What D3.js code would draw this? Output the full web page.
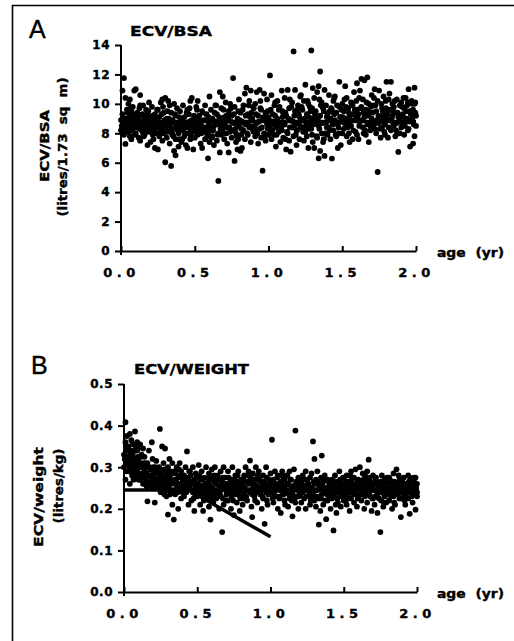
<!DOCTYPE html>
<html>
<head>
<meta charset="utf-8">
<script src="https://cdn.jsdelivr.net/npm/d3@7"></script>
<style>
  body { margin: 0; background: #fff; }
  svg { display: block; }
  .tick text { font-family: "DejaVu Sans", sans-serif; font-weight: bold; fill: #000; stroke: #000; stroke-width: 0.4; }
  .domain, .tick line { stroke: #000; stroke-width: 2; }
  .lbl { font-family: "DejaVu Sans", sans-serif; font-weight: bold; fill: #000; stroke: #000; stroke-width: 0.4; }
</style>
</head>
<body>
<div id="chart"></div>
<script>
// Panel A: ECV/BSA (litres/1.73 sq m) against age (yr)
const bsaPoints = [
  [0.00,8.9],[0.00,8.2],[0.01,10.9],[0.01,9.3],[0.02,11.75],[0.02,8.6],[0.02,7.9],[0.03,7.28],[0.03,10.4],[0.03,9.0],[0.04,8.4],[0.04,9.6],[0.05,10.0],[0.05,8.1],[0.05,8.8],[0.06,10.3],[0.06,9.2],[0.06,7.8],[0.07,7.6],[0.07,8.5],[0.07,9.5],[0.08,9.8],[0.08,8.3],[0.08,8.9],[0.09,10.9],[0.09,7.9],[0.09,9.1],[0.10,11.0],[0.10,8.6],[0.10,8.0],
  [0.11,9.4],[0.11,8.4],[0.12,7.7],[0.12,8.9],[0.13,10.6],[0.13,7.5],[0.13,9.9],[0.14,8.2],[0.14,8.7],[0.15,9.9],[0.15,8.0],[0.15,9.2],[0.16,8.5],[0.16,7.9],[0.17,9.6],[0.17,8.3],[0.18,7.2],[0.18,8.8],[0.18,9.3],[0.19,10.1],[0.19,8.1],[0.20,8.6],[0.20,7.4],[0.20,9.0],
  [0.21,9.8],[0.21,8.3],[0.22,7.6],[0.22,8.9],[0.23,7.0],[0.23,9.3],[0.24,8.4],[0.24,8.0],[0.25,6.9],[0.25,9.6],[0.25,8.7],[0.26,7.8],[0.26,9.1],[0.27,8.2],[0.27,10.1],[0.28,10.3],[0.28,8.5],[0.28,7.5],[0.29,9.4],[0.29,8.0],[0.30,10.4],[0.30,6.03],[0.30,8.8],
  [0.31,9.0],[0.31,7.7],[0.32,8.4],[0.32,10.2],[0.33,9.9],[0.33,7.3],[0.33,8.6],[0.34,5.78],[0.34,8.1],[0.34,9.4],[0.35,7.9],[0.35,8.9],[0.36,6.8],[0.36,10.0],[0.36,8.3],[0.37,6.5],[0.37,9.2],[0.37,7.6],[0.38,8.7],[0.38,9.7],[0.39,8.0],[0.39,7.1],[0.40,8.5],[0.40,9.5],
  [0.41,7.4],[0.41,8.8],[0.42,9.9],[0.42,8.2],[0.43,7.8],[0.43,9.1],[0.44,8.4],[0.44,7.2],[0.45,7.0],[0.45,9.6],[0.45,8.6],[0.46,8.0],[0.46,9.3],[0.47,10.2],[0.47,7.6],[0.47,8.3],[0.48,10.4],[0.48,8.9],[0.49,6.9],[0.49,8.1],[0.50,9.0],[0.50,7.7],
  [0.51,8.5],[0.51,9.8],[0.52,10.2],[0.52,7.9],[0.53,8.3],[0.53,9.2],[0.54,7.3],[0.54,8.7],[0.55,7.0],[0.55,9.5],[0.56,8.1],[0.56,8.9],[0.57,9.9],[0.57,7.6],[0.58,8.4],[0.58,9.3],[0.59,6.3],[0.59,8.0],[0.60,10.5],[0.60,8.6],[0.60,7.4],
  [0.61,9.6],[0.61,8.2],[0.62,7.8],[0.62,9.0],[0.63,7.2],[0.63,8.5],[0.64,9.9],[0.64,8.8],[0.65,7.5],[0.65,9.3],[0.66,4.76],[0.66,8.0],[0.67,10.8],[0.67,6.7],[0.67,8.6],[0.68,9.7],[0.68,7.9],[0.69,10.5],[0.69,8.3],[0.70,9.1],[0.70,7.6],
  [0.71,8.9],[0.71,10.1],[0.72,7.3],[0.72,8.4],[0.73,6.7],[0.73,9.5],[0.74,10.0],[0.74,8.1],[0.75,7.7],[0.75,9.2],[0.76,11.75],[0.76,8.7],[0.77,6.12],[0.77,9.8],[0.78,8.0],[0.78,7.4],[0.79,6.9],[0.79,9.0],[0.80,8.5],[0.80,10.3],
  [0.81,6.8],[0.81,9.4],[0.82,7.0],[0.82,8.8],[0.83,9.9],[0.83,8.2],[0.84,10.7],[0.84,7.6],[0.85,11.1],[0.85,8.6],[0.86,9.3],[0.86,7.9],[0.87,10.2],[0.87,8.4],[0.88,10.9],[0.88,7.4],[0.89,9.0],[0.89,8.9],[0.90,9.7],[0.90,8.1],
  [0.91,10.0],[0.91,7.8],[0.92,10.8],[0.92,8.7],[0.93,7.3],[0.93,9.2],[0.94,10.95],[0.94,8.3],[0.95,9.6],[0.95,7.7],[0.96,5.46],[0.96,8.9],[0.97,10.7],[0.97,8.0],[0.98,9.4],[0.98,7.5],[0.99,8.6],[0.99,10.3],[1.00,9.1],[1.00,7.9],
  [1.01,11.93],[1.01,8.5],[1.02,10.6],[1.02,7.6],[1.03,9.3],[1.03,8.8],[1.04,9.9],[1.04,7.9],[1.05,7.1],[1.05,8.4],[1.06,10.2],[1.06,9.0],[1.07,8.1],[1.07,9.6],[1.08,7.4],[1.08,8.7],[1.09,10.9],[1.09,8.2],[1.10,9.4],[1.10,7.7],
  [1.11,10.4],[1.11,8.6],[1.12,6.9],[1.12,9.2],[1.13,10.95],[1.13,8.0],[1.14,9.7],[1.14,7.5],[1.15,6.75],[1.15,8.9],[1.16,10.1],[1.16,8.4],[1.17,13.56],[1.17,7.8],[1.18,10.95],[1.18,9.5],[1.19,8.2],[1.19,7.2],[1.20,9.9],[1.20,8.7],
  [1.21,9.1],[1.21,7.6],[1.22,10.6],[1.22,8.4],[1.23,9.6],[1.23,8.9],[1.24,7.5],[1.24,10.2],[1.25,11.3],[1.25,8.1],[1.26,9.3],[1.26,7.8],[1.27,7.0],[1.27,10.0],[1.28,8.6],[1.28,9.8],[1.29,13.63],[1.29,8.3],[1.30,11.07],[1.30,7.4],[1.30,9.0],
  [1.31,7.0],[1.31,10.4],[1.32,8.8],[1.32,9.5],[1.33,7.7],[1.33,10.8],[1.34,6.3],[1.34,11.2],[1.34,8.5],[1.35,12.2],[1.35,6.8],[1.35,9.2],[1.36,8.0],[1.36,10.1],[1.37,9.7],[1.37,7.4],[1.38,10.95],[1.38,6.46],[1.39,8.7],[1.39,9.9],[1.40,7.9],[1.40,9.3],
  [1.41,10.6],[1.41,8.4],[1.42,9.0],[1.42,7.6],[1.43,6.28],[1.43,9.6],[1.44,8.2],[1.44,10.2],[1.45,10.5],[1.45,8.9],[1.46,7.8],[1.46,9.4],[1.47,7.0],[1.47,8.6],[1.48,11.5],[1.48,9.8],[1.49,7.2],[1.49,9.1],[1.50,8.0],[1.50,10.0],
  [1.51,9.5],[1.51,8.3],[1.52,11.2],[1.52,9.0],[1.53,7.8],[1.53,10.4],[1.54,8.7],[1.54,9.7],[1.55,7.4],[1.55,9.2],[1.56,10.1],[1.56,8.5],[1.57,7.6],[1.57,9.9],[1.58,10.8],[1.58,8.9],[1.59,9.4],[1.59,8.1],[1.60,11.4],[1.60,9.6],[1.60,7.9],
  [1.61,7.6],[1.61,9.3],[1.62,10.9],[1.62,8.8],[1.63,11.7],[1.63,9.8],[1.64,8.4],[1.64,10.3],[1.65,11.6],[1.65,9.1],[1.66,7.9],[1.66,9.6],[1.67,11.8],[1.67,8.6],[1.68,7.4],[1.68,10.0],[1.69,9.4],[1.69,8.2],[1.70,10.6],[1.70,9.0],
  [1.71,8.7],[1.71,9.9],[1.72,11.0],[1.72,8.3],[1.73,8.0],[1.73,9.5],[1.74,5.37],[1.74,10.2],[1.75,10.9],[1.75,9.1],[1.76,7.7],[1.76,8.8],[1.77,9.7],[1.77,8.4],[1.78,10.5],[1.78,9.3],[1.79,7.9],[1.79,8.6],[1.80,11.5],[1.80,9.0],
  [1.81,7.7],[1.81,9.6],[1.82,10.7],[1.82,8.9],[1.83,11.5],[1.83,8.2],[1.84,9.2],[1.84,10.0],[1.85,8.5],[1.85,9.8],[1.86,7.8],[1.86,9.4],[1.87,10.3],[1.87,8.7],[1.88,6.73],[1.88,9.1],[1.89,8.0],[1.89,9.9],[1.90,10.1],[1.90,8.4],
  [1.91,9.3],[1.91,8.6],[1.92,9.7],[1.92,7.9],[1.93,10.4],[1.93,8.8],[1.94,9.0],[1.94,9.9],[1.95,11.0],[1.95,8.3],[1.96,7.1],[1.96,9.5],[1.97,10.2],[1.97,8.9],[1.98,7.3],[1.98,9.6],[1.99,11.1],[1.99,7.8],[1.99,10.0],[2.00,9.2],[2.00,8.5]
];

// Panel A, points inside the dense central band
const bsaBandPoints = [
  [0.005,8.5],[0.015,9.0],[0.025,8.3],[0.035,8.8],[0.045,9.4],[0.055,8.6],[0.065,8.2],[0.075,9.1],[0.085,8.7],[0.095,8.4],[0.015,8.0],[0.045,8.9],[0.065,9.7],[0.085,9.3],
  [0.105,8.8],[0.115,9.1],[0.125,8.3],[0.135,8.6],[0.145,9.3],[0.155,8.9],[0.165,8.1],[0.175,8.7],[0.185,9.5],[0.195,8.4],[0.125,9.7],[0.155,7.8],[0.175,9.0],[0.195,8.8],
  [0.205,8.5],[0.215,9.2],[0.225,8.2],[0.235,8.7],[0.245,9.0],[0.255,8.0],[0.265,8.6],[0.275,9.3],[0.285,8.3],[0.295,8.9],[0.215,7.9],[0.245,9.6],[0.265,8.4],[0.285,9.8],
  [0.305,8.6],[0.315,8.1],[0.325,9.0],[0.335,8.4],[0.345,8.8],[0.355,7.8],[0.365,9.3],[0.375,8.5],[0.385,8.2],[0.395,9.1],[0.315,9.5],[0.345,8.0],[0.365,8.7],[0.395,7.6],
  [0.405,8.3],[0.415,9.0],[0.425,8.6],[0.435,8.0],[0.445,9.4],[0.455,8.4],[0.465,8.8],[0.475,7.8],[0.485,8.5],[0.495,9.2],[0.415,7.6],[0.445,8.7],[0.465,9.7],[0.495,8.2],
  [0.505,8.8],[0.515,8.2],[0.525,9.0],[0.535,8.6],[0.545,8.0],[0.555,9.4],[0.565,8.4],[0.575,8.9],[0.585,7.8],[0.595,9.1],[0.515,9.6],[0.545,8.5],[0.575,8.1],[0.595,8.7],
  [0.605,8.4],[0.615,8.9],[0.625,8.2],[0.635,9.4],[0.645,8.6],[0.655,7.9],[0.665,9.1],[0.675,8.3],[0.685,8.8],[0.695,9.6],[0.615,7.7],[0.645,9.9],[0.675,8.5],[0.695,8.0],
  [0.705,8.6],[0.715,8.0],[0.725,9.0],[0.735,8.4],[0.745,9.7],[0.755,8.2],[0.765,9.3],[0.775,8.7],[0.785,7.8],[0.795,9.5],[0.715,9.2],[0.745,8.8],[0.775,8.3],[0.795,7.6],
  [0.805,8.9],[0.815,8.3],[0.825,9.6],[0.835,8.7],[0.845,9.2],[0.855,8.0],[0.865,9.9],[0.875,8.5],[0.885,9.4],[0.895,8.2],[0.815,7.9],[0.845,8.6],[0.875,9.1],[0.895,9.8],
  [0.905,8.5],[0.915,9.3],[0.925,8.0],[0.935,8.8],[0.945,9.7],[0.955,8.4],[0.965,9.1],[0.975,7.8],[0.985,8.9],[0.995,9.5],[0.915,8.2],[0.945,10.2],[0.975,9.0],[0.995,8.3],
  [1.005,8.9],[1.015,9.6],[1.025,8.2],[1.035,8.6],[1.045,9.2],[1.055,7.9],[1.065,8.7],[1.075,9.8],[1.085,8.4],[1.095,9.1],[1.015,8.0],[1.045,10.1],[1.075,8.5],[1.095,9.5],
  [1.105,8.6],[1.115,9.4],[1.125,8.1],[1.135,9.0],[1.145,8.4],[1.155,9.8],[1.165,8.8],[1.175,9.2],[1.185,7.9],[1.195,9.6],[1.115,7.6],[1.145,10.3],[1.175,8.5],[1.195,8.2],
  [1.205,9.3],[1.215,8.5],[1.225,9.8],[1.235,8.1],[1.245,9.0],[1.255,8.7],[1.265,10.2],[1.275,8.3],[1.285,9.5],[1.295,7.9],[1.215,10.5],[1.245,8.4],[1.275,9.1],[1.295,9.7],
  [1.305,8.6],[1.315,9.3],[1.325,7.8],[1.335,9.0],[1.345,8.3],[1.355,9.9],[1.365,8.7],[1.375,9.5],[1.385,8.0],[1.395,9.1],[1.315,8.9],[1.345,10.3],[1.375,7.6],[1.395,8.4],
  [1.405,9.0],[1.415,8.2],[1.425,9.7],[1.435,8.6],[1.445,9.3],[1.455,7.9],[1.465,9.9],[1.475,8.4],[1.485,9.1],[1.495,8.8],[1.415,9.5],[1.445,10.4],[1.475,8.0],[1.495,9.6],
  [1.505,9.1],[1.515,8.7],[1.525,9.8],[1.535,8.4],[1.545,9.4],[1.555,8.9],[1.565,10.0],[1.575,8.2],[1.585,9.6],[1.595,9.0],[1.515,10.3],[1.545,8.0],[1.575,9.3],[1.595,10.2],
  [1.605,9.0],[1.615,8.5],[1.625,9.7],[1.635,8.9],[1.645,9.4],[1.655,8.2],[1.665,10.1],[1.675,9.2],[1.685,8.7],[1.695,9.8],[1.615,10.4],[1.645,8.0],[1.675,9.5],[1.695,8.4],
  [1.705,9.4],[1.715,8.6],[1.725,9.9],[1.735,8.9],[1.745,9.2],[1.755,8.3],[1.765,10.0],[1.775,9.0],[1.785,8.1],[1.795,9.7],[1.715,10.4],[1.745,8.7],[1.775,9.5],[1.795,10.2],
  [1.805,9.3],[1.815,8.4],[1.825,9.6],[1.835,9.0],[1.845,8.7],[1.855,10.2],[1.865,8.2],[1.875,9.4],[1.885,8.8],[1.895,9.9],[1.815,10.3],[1.845,9.5],[1.875,8.0],[1.895,9.1],
  [1.905,9.8],[1.915,9.1],[1.925,8.5],[1.935,9.5],[1.945,10.1],[1.955,8.8],[1.965,9.3],[1.975,10.0],[1.985,8.6],[1.995,9.4],[1.915,10.4],[1.945,8.2],[1.975,9.0],[1.995,10.1]
];

// Panel B: ECV/weight (litres/kg) against age (yr)
const weightPoints = [
  [0.00,0.33],[0.00,0.30],[0.01,0.408],[0.01,0.36],[0.01,0.27],[0.02,0.34],[0.02,0.31],[0.02,0.375],[0.03,0.29],[0.03,0.35],[0.03,0.32],[0.04,0.38],[0.04,0.30],[0.04,0.26],[0.05,0.34],[0.05,0.31],[0.05,0.365],[0.06,0.29],[0.06,0.33],[0.06,0.355],[0.07,0.30],[0.07,0.32],[0.075,0.386],[0.08,0.35],[0.08,0.28],[0.08,0.31],[0.09,0.34],[0.09,0.29],[0.09,0.36],[0.10,0.32],[0.10,0.27],[0.10,0.30],
  [0.11,0.355],[0.11,0.30],[0.11,0.27],[0.12,0.33],[0.12,0.285],[0.13,0.345],[0.13,0.26],[0.13,0.31],[0.14,0.29],[0.14,0.325],[0.15,0.27],[0.15,0.30],[0.155,0.254],[0.16,0.218],[0.16,0.31],[0.17,0.34],[0.17,0.28],[0.18,0.295],[0.18,0.26],[0.19,0.36],[0.19,0.275],[0.20,0.30],[0.20,0.25],[0.20,0.285],
  [0.21,0.215],[0.21,0.29],[0.22,0.27],[0.22,0.315],[0.23,0.255],[0.23,0.285],[0.24,0.30],[0.24,0.26],[0.245,0.392],[0.25,0.275],[0.25,0.24],[0.26,0.35],[0.26,0.29],[0.27,0.265],[0.27,0.31],[0.28,0.345],[0.28,0.25],[0.29,0.28],[0.29,0.23],[0.30,0.186],[0.30,0.30],[0.30,0.26],
  [0.31,0.27],[0.31,0.32],[0.32,0.245],[0.32,0.29],[0.33,0.21],[0.33,0.31],[0.34,0.174],[0.34,0.265],[0.35,0.285],[0.35,0.235],[0.36,0.30],[0.36,0.255],[0.37,0.20],[0.37,0.275],[0.38,0.31],[0.38,0.25],[0.39,0.225],[0.39,0.29],[0.40,0.265],[0.40,0.24],
  [0.41,0.28],[0.41,0.23],[0.42,0.26],[0.42,0.30],[0.43,0.338],[0.43,0.245],[0.44,0.21],[0.44,0.275],[0.45,0.255],[0.45,0.29],[0.46,0.22],[0.46,0.265],[0.47,0.24],[0.47,0.30],[0.48,0.27],[0.48,0.195],[0.49,0.25],[0.49,0.285],[0.50,0.23],[0.50,0.26],
  [0.51,0.305],[0.51,0.245],[0.52,0.27],[0.52,0.21],[0.53,0.255],[0.53,0.29],[0.54,0.235],[0.54,0.195],[0.55,0.275],[0.55,0.25],[0.56,0.30],[0.56,0.225],[0.57,0.26],[0.57,0.24],[0.58,0.285],[0.58,0.205],[0.59,0.174],[0.59,0.255],[0.60,0.295],[0.60,0.235],
  [0.61,0.27],[0.61,0.215],[0.62,0.245],[0.62,0.30],[0.63,0.26],[0.63,0.225],[0.64,0.28],[0.64,0.24],[0.65,0.20],[0.65,0.255],[0.66,0.29],[0.66,0.23],[0.67,0.144],[0.67,0.265],[0.68,0.30],[0.68,0.21],[0.69,0.25],[0.69,0.275],[0.70,0.235],[0.70,0.26],
  [0.71,0.29],[0.71,0.22],[0.72,0.255],[0.72,0.245],[0.73,0.27],[0.73,0.20],[0.74,0.30],[0.74,0.235],[0.75,0.26],[0.75,0.185],[0.76,0.28],[0.76,0.24],[0.77,0.215],[0.77,0.265],[0.78,0.25],[0.78,0.29],[0.79,0.23],[0.79,0.195],[0.80,0.27],[0.80,0.245],
  [0.81,0.255],[0.81,0.21],[0.82,0.28],[0.82,0.235],[0.83,0.265],[0.83,0.30],[0.84,0.245],[0.84,0.22],[0.85,0.29],[0.85,0.26],[0.86,0.316],[0.86,0.24],[0.87,0.205],[0.875,0.18],[0.87,0.27],[0.88,0.25],[0.88,0.285],[0.89,0.23],[0.89,0.26],[0.90,0.30],[0.90,0.24],
  [0.91,0.275],[0.91,0.215],[0.92,0.25],[0.92,0.29],[0.93,0.235],[0.93,0.265],[0.94,0.20],[0.94,0.245],[0.95,0.28],[0.95,0.225],[0.96,0.164],[0.96,0.26],[0.97,0.30],[0.97,0.24],[0.98,0.255],[0.98,0.21],[0.99,0.27],[0.99,0.235],[1.00,0.285],[1.00,0.25],
  [1.01,0.366],[1.01,0.24],[1.02,0.27],[1.02,0.215],[1.03,0.255],[1.03,0.29],[1.04,0.23],[1.04,0.26],[1.05,0.20],[1.05,0.28],[1.06,0.245],[1.06,0.225],[1.07,0.265],[1.07,0.19],[1.08,0.25],[1.08,0.29],[1.09,0.235],[1.09,0.27],[1.10,0.21],[1.10,0.255],
  [1.11,0.28],[1.11,0.24],[1.12,0.205],[1.12,0.26],[1.13,0.29],[1.13,0.225],[1.14,0.25],[1.14,0.27],[1.15,0.182],[1.15,0.235],[1.16,0.295],[1.16,0.245],[1.17,0.388],[1.17,0.215],[1.18,0.26],[1.18,0.23],[1.19,0.275],[1.19,0.20],[1.20,0.25],[1.20,0.24],
  [1.21,0.265],[1.21,0.215],[1.22,0.24],[1.22,0.28],[1.23,0.225],[1.23,0.255],[1.24,0.29],[1.24,0.20],[1.25,0.245],[1.25,0.27],[1.26,0.23],[1.26,0.26],[1.27,0.275],[1.27,0.21],[1.28,0.25],[1.28,0.285],[1.29,0.362],[1.29,0.235],[1.30,0.32],[1.30,0.22],[1.30,0.26],
  [1.31,0.27],[1.31,0.205],[1.32,0.245],[1.32,0.29],[1.33,0.162],[1.33,0.225],[1.34,0.255],[1.34,0.195],[1.35,0.328],[1.35,0.235],[1.36,0.265],[1.36,0.21],[1.37,0.28],[1.37,0.24],[1.38,0.175],[1.38,0.25],[1.39,0.22],[1.39,0.27],[1.40,0.23],[1.40,0.26],
  [1.41,0.245],[1.41,0.20],[1.42,0.27],[1.42,0.225],[1.43,0.148],[1.43,0.255],[1.44,0.235],[1.44,0.28],[1.45,0.19],[1.45,0.25],[1.46,0.265],[1.46,0.215],[1.47,0.24],[1.47,0.29],[1.48,0.23],[1.48,0.205],[1.49,0.26],[1.49,0.245],[1.50,0.275],[1.50,0.22],
  [1.51,0.255],[1.51,0.235],[1.52,0.28],[1.52,0.21],[1.53,0.245],[1.53,0.265],[1.54,0.195],[1.54,0.24],[1.55,0.29],[1.55,0.225],[1.56,0.26],[1.56,0.25],[1.57,0.215],[1.57,0.275],[1.58,0.235],[1.58,0.295],[1.59,0.205],[1.59,0.255],[1.60,0.27],[1.60,0.23],
  [1.61,0.245],[1.61,0.30],[1.62,0.22],[1.62,0.26],[1.63,0.285],[1.63,0.235],[1.64,0.20],[1.64,0.25],[1.65,0.27],[1.65,0.24],[1.66,0.215],[1.66,0.29],[1.67,0.318],[1.67,0.255],[1.68,0.23],[1.68,0.265],[1.69,0.195],[1.69,0.245],[1.70,0.28],[1.70,0.225],
  [1.71,0.26],[1.71,0.21],[1.72,0.245],[1.72,0.275],[1.73,0.235],[1.73,0.19],[1.74,0.255],[1.74,0.225],[1.75,0.144],[1.75,0.265],[1.76,0.24],[1.76,0.28],[1.77,0.205],[1.77,0.25],[1.78,0.23],[1.78,0.27],[1.79,0.245],[1.79,0.215],[1.80,0.26],[1.80,0.235],
  [1.81,0.275],[1.81,0.22],[1.82,0.25],[1.82,0.24],[1.83,0.265],[1.83,0.20],[1.84,0.23],[1.84,0.285],[1.85,0.245],[1.85,0.21],[1.86,0.26],[1.86,0.295],[1.87,0.235],[1.87,0.25],[1.88,0.27],[1.88,0.225],[1.89,0.18],[1.89,0.255],[1.90,0.24],[1.90,0.265],
  [1.91,0.23],[1.91,0.275],[1.92,0.25],[1.92,0.21],[1.93,0.26],[1.93,0.24],[1.94,0.28],[1.94,0.225],[1.95,0.188],[1.95,0.255],[1.96,0.245],[1.96,0.27],[1.97,0.235],[1.97,0.215],[1.98,0.265],[1.98,0.25],[1.99,0.198],[1.99,0.275],[2.00,0.24],[2.00,0.26],[2.00,0.23]
];

// Panel B, points inside the dense central band
const weightBandPoints = [
  [0.005,0.32],[0.015,0.29],[0.025,0.345],[0.035,0.305],[0.045,0.33],[0.055,0.28],[0.065,0.315],[0.075,0.34],[0.085,0.30],[0.095,0.325],[0.015,0.35],[0.045,0.295],[0.065,0.27],[0.095,0.345],
  [0.105,0.31],[0.115,0.28],[0.125,0.30],[0.135,0.275],[0.145,0.31],[0.155,0.285],[0.165,0.265],[0.175,0.30],[0.185,0.28],[0.195,0.32],[0.115,0.325],[0.145,0.26],[0.175,0.255],[0.195,0.265],
  [0.205,0.275],[0.215,0.26],[0.225,0.29],[0.235,0.27],[0.245,0.25],[0.255,0.285],[0.265,0.26],[0.275,0.295],[0.285,0.27],[0.295,0.245],[0.215,0.30],[0.245,0.28],[0.275,0.235],[0.295,0.29],
  [0.305,0.255],[0.315,0.28],[0.325,0.26],[0.335,0.245],[0.345,0.29],[0.355,0.265],[0.365,0.24],[0.375,0.26],[0.385,0.28],[0.395,0.25],[0.315,0.235],[0.345,0.27],[0.375,0.295],[0.395,0.275],
  [0.405,0.25],[0.415,0.27],[0.425,0.24],[0.435,0.265],[0.445,0.25],[0.455,0.28],[0.465,0.245],[0.475,0.26],[0.485,0.235],[0.495,0.275],[0.415,0.255],[0.445,0.29],[0.475,0.225],[0.495,0.245],
  [0.505,0.26],[0.515,0.235],[0.525,0.25],[0.535,0.27],[0.545,0.245],[0.555,0.26],[0.565,0.23],[0.575,0.255],[0.585,0.275],[0.595,0.245],[0.515,0.28],[0.545,0.22],[0.575,0.265],[0.595,0.225],
  [0.605,0.25],[0.615,0.265],[0.625,0.235],[0.635,0.245],[0.645,0.27],[0.655,0.24],[0.665,0.255],[0.675,0.225],[0.685,0.26],[0.695,0.245],[0.615,0.28],[0.645,0.23],[0.675,0.275],[0.695,0.22],
  [0.705,0.255],[0.715,0.24],[0.725,0.265],[0.735,0.23],[0.745,0.25],[0.755,0.27],[0.765,0.235],[0.775,0.255],[0.785,0.24],[0.795,0.265],[0.715,0.275],[0.745,0.22],[0.775,0.28],[0.795,0.225],
  [0.805,0.245],[0.815,0.27],[0.825,0.25],[0.835,0.23],[0.845,0.265],[0.855,0.245],[0.865,0.275],[0.875,0.235],[0.885,0.255],[0.895,0.27],[0.815,0.225],[0.845,0.28],[0.875,0.26],[0.895,0.22],
  [0.905,0.255],[0.915,0.24],[0.925,0.27],[0.935,0.25],[0.945,0.23],[0.955,0.265],[0.965,0.245],[0.975,0.275],[0.985,0.235],[0.995,0.26],[0.915,0.28],[0.945,0.255],[0.975,0.22],[0.995,0.24],
  [1.005,0.25],[1.015,0.265],[1.025,0.235],[1.035,0.245],[1.045,0.275],[1.055,0.25],[1.065,0.23],[1.075,0.26],[1.085,0.24],[1.095,0.27],[1.015,0.225],[1.045,0.255],[1.075,0.28],[1.095,0.22],
  [1.105,0.245],[1.115,0.26],[1.125,0.235],[1.135,0.27],[1.145,0.24],[1.155,0.255],[1.165,0.225],[1.175,0.265],[1.185,0.245],[1.195,0.23],[1.115,0.28],[1.145,0.22],[1.175,0.25],[1.195,0.27],
  [1.205,0.235],[1.215,0.255],[1.225,0.245],[1.235,0.27],[1.245,0.23],[1.255,0.26],[1.265,0.24],[1.275,0.25],[1.285,0.225],[1.295,0.265],[1.215,0.275],[1.245,0.255],[1.275,0.22],[1.295,0.245],
  [1.305,0.245],[1.315,0.23],[1.325,0.265],[1.335,0.25],[1.345,0.225],[1.355,0.255],[1.365,0.24],[1.375,0.27],[1.385,0.235],[1.395,0.25],[1.315,0.26],[1.345,0.275],[1.375,0.22],[1.395,0.24],
  [1.405,0.255],[1.415,0.24],[1.425,0.23],[1.435,0.265],[1.445,0.245],[1.455,0.225],[1.465,0.255],[1.475,0.27],[1.485,0.24],[1.495,0.23],[1.415,0.265],[1.445,0.21],[1.475,0.25],[1.495,0.275],
  [1.505,0.245],[1.515,0.265],[1.525,0.23],[1.535,0.255],[1.545,0.24],[1.555,0.27],[1.565,0.235],[1.575,0.25],[1.585,0.26],[1.595,0.225],[1.515,0.22],[1.545,0.28],[1.575,0.245],[1.595,0.265],
  [1.605,0.255],[1.615,0.235],[1.625,0.245],[1.635,0.27],[1.645,0.23],[1.655,0.26],[1.665,0.24],[1.675,0.275],[1.685,0.25],[1.695,0.225],[1.615,0.265],[1.645,0.28],[1.675,0.235],[1.695,0.255],
  [1.705,0.245],[1.715,0.23],[1.725,0.26],[1.735,0.25],[1.745,0.24],[1.755,0.22],[1.765,0.255],[1.775,0.235],[1.785,0.265],[1.795,0.245],[1.715,0.27],[1.745,0.26],[1.775,0.215],[1.795,0.275],
  [1.805,0.25],[1.815,0.24],[1.825,0.23],[1.835,0.255],[1.845,0.265],[1.855,0.235],[1.865,0.245],[1.875,0.26],[1.885,0.24],[1.895,0.225],[1.815,0.27],[1.845,0.215],[1.875,0.28],[1.895,0.25],
  [1.905,0.245],[1.915,0.26],[1.925,0.235],[1.935,0.25],[1.945,0.24],[1.955,0.27],[1.965,0.23],[1.975,0.255],[1.985,0.245],[1.995,0.235],[1.915,0.22],[1.945,0.265],[1.975,0.275],[1.995,0.25]
];

// fitted lines, as [age, value] end points
const bsaLines = [ [[0, 8.8], [2, 8.8]] ];
const weightLines = [ [[0, 0.245], [2, 0.245]], [[0, 0.333], [1, 0.133]] ];

// tick labels
const ageTicks = [0, 0.5, 1.0, 1.5, 2.0];
const bsaTicks = [0, 2, 4, 6, 8, 10, 12, 14];
const weightTicks = [0, 0.1, 0.2, 0.3, 0.4, 0.5];

const svg = d3.select("#chart").append("svg")
    .attr("width", 514)
    .attr("height", 641);

// outer frame (only top and left edges are in view)
svg.append("path")
    .attr("d", "M514,5.5H12.5V641")
    .attr("fill", "none")
    .attr("stroke", "#000")
    .attr("stroke-width", 1.6);

function drawPanel(p) {
    const x = d3.scaleLinear().domain([0, 2]).range([p.left, p.right]);
    const y = d3.scaleLinear().domain(p.yDomain).range([p.bottom, p.top]);

    // dots
    svg.append("g")
      .selectAll("circle")
      .data(p.points)
      .enter().append("circle")
        .attr("cx", d => x(d[0]))
        .attr("cy", d => y(d[1]))
        .attr("r", 2.9)
        .attr("fill", "#000");

    // fitted lines
    const line = d3.line().x(d => x(d[0])).y(d => y(d[1]));
    svg.append("g")
      .selectAll("path")
      .data(p.lines)
      .enter().append("path")
        .attr("d", line)
        .attr("fill", "none")
        .attr("stroke", "#000")
        .attr("stroke-width", 3.5);

    // y axis
    const yAxis = svg.append("g")
        .attr("transform", `translate(${p.left},0)`)
        .call(d3.axisLeft(y).tickValues(p.yTicks).tickFormat(p.yFormat)
            .tickSizeInner(6).tickSizeOuter(0).tickPadding(5));
    yAxis.select(".domain").attr("d", `M0,${p.bottom + 4}V${p.top}`);
    yAxis.selectAll(".tick text")
        .style("font-size", "12px")
        .style("letter-spacing", "0.5px");

    // x axis, ticks pointing up
    const xAxis = svg.append("g")
        .attr("transform", `translate(0,${p.bottom})`)
        .call(d3.axisBottom(x).tickValues(ageTicks).tickFormat(d3.format(".1f"))
            .tickSizeInner(-5).tickSizeOuter(0).tickPadding(17));
    xAxis.selectAll(".tick text")
        .style("font-size", "13px")
        .style("letter-spacing", "4.5px");

    svg.append("text")
        .attr("class", "lbl")
        .attr("x", 437).attr("y", p.bottom + 6)
        .attr("font-size", 13)
        .attr("textLength", 67).attr("lengthAdjust", "spacingAndGlyphs")
        .style("white-space", "pre")
        .text("age  (yr)");

    // panel letter and title
    svg.append("text")
        .attr("x", p.letterX).attr("y", p.letterY)
        .attr("font-family", "Liberation Sans, Arial, sans-serif")
        .attr("font-size", 25)
        .attr("stroke", "#000").attr("stroke-width", 0.4)
        .text(p.letter);

    svg.append("text")
        .attr("class", "lbl")
        .attr("x", p.titleX).attr("y", p.titleY)
        .attr("font-size", 14)
        .attr("textLength", p.titleLen).attr("lengthAdjust", "spacingAndGlyphs")
        .text(p.title);

    // rotated two-line y label
    p.yLabel.forEach(l => {
        svg.append("text")
            .attr("class", "lbl")
            .attr("transform", `translate(${l.x},${l.cy}) rotate(-90)`)
            .attr("text-anchor", "middle")
            .attr("font-size", 13)
            .attr("textLength", l.len).attr("lengthAdjust", "spacingAndGlyphs")
            .style("white-space", "pre")
            .text(l.text);
    });
}

drawPanel({
    points: bsaPoints.concat(bsaBandPoints), lines: bsaLines,
    left: 121, right: 416, top: 45, bottom: 251,
    yDomain: [0, 14], yTicks: bsaTicks, yFormat: d3.format("d"),
    letter: "A", letterX: 29, letterY: 38,
    title: "ECV/BSA", titleX: 130, titleY: 36, titleLen: 82,
    yLabel: [
        { text: "ECV/BSA", x: 49, cy: 146, len: 72 },
        { text: "(litres/1.73  sq  m)", x: 67, cy: 147, len: 139 }
    ]
});

drawPanel({
    points: weightPoints.concat(weightBandPoints), lines: weightLines,
    left: 124, right: 417, top: 384, bottom: 592,
    yDomain: [0, 0.5], yTicks: weightTicks, yFormat: d3.format(".1f"),
    letter: "B", letterX: 31, letterY: 374,
    title: "ECV/WEIGHT", titleX: 134, titleY: 374, titleLen: 115,
    yLabel: [
        { text: "ECV/weight", x: 43, cy: 497, len: 100 },
        { text: "(litres/kg)", x: 63, cy: 486, len: 75 }
    ]
});
</script>
</body>
</html>
